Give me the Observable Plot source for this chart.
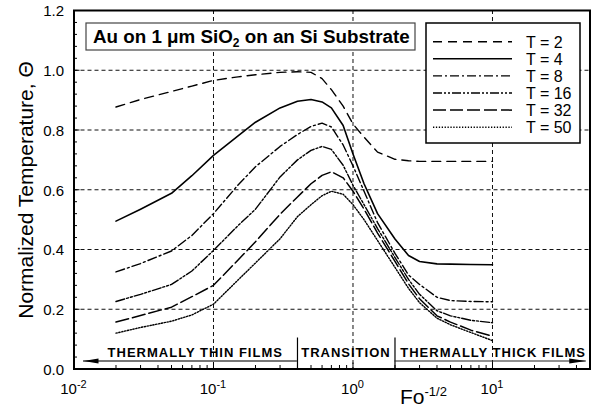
<!DOCTYPE html>
<html><head><meta charset="utf-8">
<script src="https://cdn.jsdelivr.net/npm/d3@7"></script>
<script src="https://cdn.jsdelivr.net/npm/@observablehq/plot@0.6"></script>
<style>
body{margin:0;background:#fff;}
#chart{width:592px;height:411px;}
</style></head><body><div id="chart"></div>
<script>
// ---- data ----
const fo = [0.02, 0.03, 0.05, 0.07, 0.1, 0.15, 0.2, 0.3, 0.4, 0.5, 0.6, 0.7, 0.85, 1, 1.2, 1.5, 2, 2.5, 3, 4, 5, 7, 10];
const thetaT2  = [0.877, 0.902, 0.929, 0.947, 0.966, 0.978, 0.985, 0.993, 0.995, 0.993, 0.972, 0.935, 0.88, 0.82, 0.776, 0.726, 0.702, 0.697, 0.695, 0.695, 0.695, 0.695, 0.695];
const thetaT4  = [0.495, 0.535, 0.588, 0.647, 0.715, 0.78, 0.826, 0.874, 0.896, 0.902, 0.894, 0.874, 0.815, 0.72, 0.62, 0.52, 0.435, 0.38, 0.36, 0.352, 0.351, 0.35, 0.349];
const thetaT8  = [0.325, 0.353, 0.395, 0.447, 0.52, 0.616, 0.677, 0.745, 0.785, 0.812, 0.823, 0.81, 0.75, 0.68, 0.595, 0.49, 0.387, 0.315, 0.283, 0.24, 0.229, 0.226, 0.225];
const thetaT16 = [0.226, 0.25, 0.283, 0.328, 0.397, 0.48, 0.535, 0.643, 0.70, 0.732, 0.745, 0.735, 0.682, 0.615, 0.55, 0.47, 0.373, 0.30, 0.25, 0.195, 0.178, 0.163, 0.155];
const thetaT32 = [0.157, 0.179, 0.207, 0.242, 0.28, 0.365, 0.426, 0.518, 0.576, 0.62, 0.648, 0.66, 0.64, 0.595, 0.535, 0.455, 0.36, 0.285, 0.235, 0.178, 0.157, 0.13, 0.11];
const thetaT50 = [0.12, 0.139, 0.16, 0.181, 0.217, 0.298, 0.355, 0.436, 0.51, 0.55, 0.58, 0.595, 0.585, 0.55, 0.5, 0.43, 0.34, 0.27, 0.222, 0.17, 0.148, 0.122, 0.095];
const seriesNames = ["T = 2", "T = 4", "T = 8", "T = 16", "T = 32", "T = 50"];

const xTickValues = [0.01, 0.1, 1, 10];
const xTickExponents = ["-2", "-1", "0", "1"];
const yTickValues = [0, 0.2, 0.4, 0.6, 0.8, 1.0, 1.2];
const xGridValues = [0.1, 1, 10];
const yGridValues = [0.2, 0.4, 0.6, 0.8, 1.0];
const xMinorTicks = [0.02,0.03,0.04,0.05,0.06,0.07,0.08,0.09, 0.2,0.3,0.4,0.5,0.6,0.7,0.8,0.9, 2,3,4,5,6,7,8,9, 20,30,40];
const yMinorTicks = [0.04,0.08,0.12,0.16,0.24,0.28,0.32,0.36,0.44,0.48,0.52,0.56,0.64,0.68,0.72,0.76,0.84,0.88,0.92,0.96,1.04,1.08,1.12,1.16];

const regionLabels = ["THERMALLY THIN FILMS", "TRANSITION", "THERMALLY THICK FILMS"];
const regionCenters = [0.074, 0.89, 10.1];
const regionBounds = [0.4, 2];
const regionArrows = [{from: 0.4, to: 0.0117}, {from: 2, to: 47}];

const titleText = "Au on 1 μm SiO";
const titleSub = "2";
const titleRest = " on an Si Substrate";
const yTitle = "Normalized Temperature, Θ";

// ---- styles ----
const seriesDash = ["9,6", null, "9,3,2,3", "9,2,2,2,2,2", "13,4", "1.3,1.6"];
const seriesWidth = [1.4, 1.6, 1.4, 1.4, 1.5, 1.4];
const FONT = "'Liberation Sans', Arial, Helvetica, sans-serif";

const seriesThetas = [thetaT2, thetaT4, thetaT8, thetaT16, thetaT32, thetaT50];
const rows = seriesThetas.flatMap((arr, s) => arr.map((v, i) => ({fo: fo[i], theta: v, series: seriesNames[s]})));

const W = 592, H = 411, mL = 73.5, mR = 2.5, mT = 10, mB = 42.5;
const frameW = W - mL - mR, frameH = H - mT - mB;

const lineMarks = seriesNames.map((name, s) => Plot.line(rows.filter(r => r.series === name), {
  x: "fo", y: "theta", stroke: "black", strokeWidth: seriesWidth[s],
  ...(seriesDash[s] ? {strokeDasharray: seriesDash[s]} : {})
}));

const leftHead = {draw(ctx) { ctx.moveTo(0, 0); ctx.lineTo(15, -2.5); ctx.lineTo(15, 2.5); ctx.closePath(); }};
const rightHead = {draw(ctx) { ctx.moveTo(0, 0); ctx.lineTo(-17, -2.5); ctx.lineTo(-17, 2.5); ctx.closePath(); }};

const chart = Plot.plot({
  width: W, height: H,
  marginLeft: mL, marginRight: mR, marginTop: mT, marginBottom: mB,
  x: {type: "log", domain: [0.01, 50], axis: null},
  y: {domain: [0, 1.2], axis: null},
  style: {fontFamily: FONT, background: "white", color: "black", overflow: "visible"},
  marks: [
    Plot.ruleX(xGridValues, {x: d => d, stroke: "#111", strokeWidth: 1, strokeDasharray: "4,3"}),
    Plot.ruleY(yGridValues, {y: d => d, stroke: "#111", strokeWidth: 1, strokeDasharray: "4,3"}),
    ...lineMarks,
    Plot.tickX(regionBounds, {x: d => d, insetTop: frameH - 31, stroke: "black", strokeWidth: 1.2}),
    Plot.ruleY(regionArrows.slice(0, 1), {y: 0, x1: "from", x2: "to", dy: -8, stroke: "#777", strokeWidth: 2}),
    Plot.ruleY(regionArrows.slice(1), {y: 0, x1: "from", x2: "to", dy: -8, stroke: "#222", strokeWidth: 1.2}),
    Plot.dot(regionArrows.slice(0, 1), {x: "to", y: 0, dy: -8, symbol: leftHead, fill: "black", stroke: null}),
    Plot.dot(regionArrows.slice(1), {x: "to", y: 0, dy: -8, symbol: rightHead, fill: "black", stroke: null}),
    Plot.text(regionLabels, {x: (d, i) => regionCenters[i], frameAnchor: "bottom", lineAnchor: "bottom", dy: -12,
      text: d => d, fontWeight: "bold", fontSize: 13, fill: "black", textAnchor: "middle"}),
    Plot.tickX(xMinorTicks, {x: d => d, insetTop: frameH - 3.5, stroke: "black", strokeWidth: 1}),
    Plot.tickY(yMinorTicks, {y: d => d, insetRight: frameW - 3.5, stroke: "black", strokeWidth: 1}),
    Plot.tickY(yTickValues, {y: d => d, insetRight: frameW - 6, stroke: "black", strokeWidth: 1}),
    Plot.tickX(xTickValues, {x: d => d, insetTop: frameH - 6, stroke: "black", strokeWidth: 1}),
    Plot.text(yTickValues, {y: d => d, frameAnchor: "left", textAnchor: "end", dx: -10, dy: 1,
      text: d => d.toFixed(1), fontSize: 15, fill: "black"}),
    Plot.frame({stroke: "black", strokeWidth: 2})
  ]
});
document.getElementById("chart").appendChild(chart);

const svg = d3.select(chart);
const sx = chart.scale("x"), sy = chart.scale("y");

// letter spacing for region labels
svg.selectAll("text").filter(function() { return regionLabels.includes(this.textContent); })
  .style("letter-spacing", "1px");

// x tick labels with superscripts
const xl = svg.append("g").attr("font-size", 15).attr("text-anchor", "middle").attr("fill", "black");
xTickValues.forEach((v, i) => {
  const t = xl.append("text").attr("x", sx.apply(v)).attr("y", sy.apply(0) + 25);
  t.append("tspan").text("10");
  t.append("tspan").attr("font-size", 11).attr("dy", -6).text(xTickExponents[i]);
});

// x axis title
const xt = svg.append("text").attr("x", 400).attr("y", 404).attr("font-size", 21)
  .attr("text-anchor", "start").attr("fill", "black");
xt.append("tspan").text("Fo");
xt.append("tspan").attr("font-size", 13).attr("dy", -8).text("-1/2");

// y axis title
svg.append("text").attr("transform", "translate(33,190) rotate(-90)")
  .attr("text-anchor", "middle").attr("font-size", 21).attr("fill", "black").text(yTitle);

// title box
svg.append("rect").attr("x", 86).attr("y", 23).attr("width", 329).attr("height", 27)
  .attr("fill", "white").attr("stroke", "#444").attr("stroke-width", 1.2);
const tt = svg.append("text").attr("x", 93).attr("y", 43).attr("font-size", 18.8)
  .attr("font-weight", "bold").attr("text-anchor", "start").attr("fill", "black");
tt.append("tspan").text(titleText);
tt.append("tspan").attr("font-size", 12).attr("dy", 4).text(titleSub);
tt.append("tspan").attr("dy", -4).text(titleRest);

// legend
svg.append("rect").attr("x", 426).attr("y", 23).attr("width", 154).attr("height", 120)
  .attr("fill", "white").attr("stroke", "black").attr("stroke-width", 1.5);
seriesNames.forEach((name, s) => {
  const cy = 41.7 + s * 17.1;
  const ln = svg.append("line").attr("x1", 433).attr("x2", 512).attr("y1", cy).attr("y2", cy)
    .attr("stroke", "black").attr("stroke-width", seriesWidth[s]);
  if (seriesDash[s]) ln.attr("stroke-dasharray", seriesDash[s]);
  svg.append("text").attr("x", 526).attr("y", cy + 5.8).attr("font-size", 16)
    .attr("text-anchor", "start").attr("fill", "black").text(name);
});
</script>
</body></html>
